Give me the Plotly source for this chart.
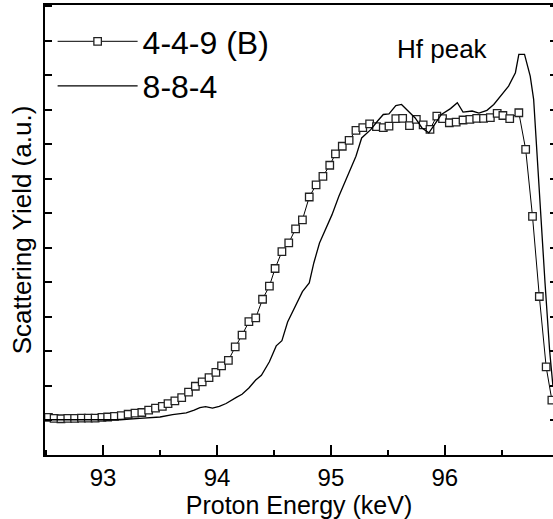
import plotly.graph_objects as go

# Series "4-4-9 (B)" (squares)
energy_b = [92.52, 92.57, 92.63, 92.69, 92.75, 92.81, 92.87, 92.93, 92.99, 93.04,
            93.10, 93.16, 93.22, 93.28, 93.34, 93.40, 93.46, 93.52, 93.57, 93.63,
            93.69, 93.75, 93.81, 93.87, 93.93, 93.99, 94.04, 94.10, 94.16, 94.22,
            94.28, 94.34, 94.40, 94.46, 94.51, 94.57, 94.63, 94.69, 94.75, 94.81,
            94.87, 94.93, 94.99, 95.04, 95.10, 95.16, 95.22, 95.28, 95.34, 95.40,
            95.46, 95.51, 95.57, 95.63, 95.69, 95.75, 95.81, 95.87, 95.93, 95.98,
            96.04, 96.10, 96.16, 96.22, 96.28, 96.34, 96.40, 96.46, 96.51, 96.57,
            96.65, 96.71, 96.77, 96.83, 96.89, 96.94]
yield_b = [1.09, 1.06, 1.05, 1.06, 1.06, 1.07, 1.07, 1.07, 1.09, 1.10,
           1.12, 1.14, 1.18, 1.21, 1.23, 1.30, 1.36, 1.41, 1.49, 1.57,
           1.66, 1.82, 1.99, 2.12, 2.24, 2.39, 2.58, 2.74, 3.13, 3.47,
           3.86, 3.97, 4.51, 4.89, 5.40, 5.89, 6.14, 6.55, 6.81, 7.47,
           7.82, 8.07, 8.39, 8.72, 8.94, 9.11, 9.40, 9.48, 9.59, 9.51,
           9.48, 9.52, 9.74, 9.75, 9.54, 9.72, 9.56, 9.43, 9.81, 9.74,
           9.62, 9.64, 9.70, 9.72, 9.75, 9.75, 9.77, 9.89, 9.83, 9.74,
           9.91, 8.85, 6.91, 4.59, 2.55, 1.59]

# Series "8-8-4" (solid line)
energy_a = [92.49, 92.62, 92.80, 92.97, 93.15, 93.32, 93.50, 93.61, 93.73, 93.80,
            93.85, 93.90, 93.96, 94.02, 94.08, 94.17, 94.22, 94.28, 94.34, 94.39,
            94.43, 94.46, 94.52, 94.57, 94.62, 94.69, 94.75, 94.81, 94.85, 94.90,
            94.95, 95.01, 95.07, 95.16, 95.22, 95.27, 95.35, 95.41, 95.46, 95.51,
            95.57, 95.62, 95.68, 95.74, 95.80, 95.86, 95.92, 95.97, 96.05, 96.11,
            96.16, 96.24, 96.30, 96.37, 96.43, 96.49, 96.56, 96.62, 96.65, 96.70,
            96.75, 96.78, 96.81, 96.84, 96.88, 96.92, 96.95]
yield_a = [1.02, 1.02, 1.01, 1.01, 1.02, 1.06, 1.10, 1.17, 1.22, 1.30,
           1.37, 1.40, 1.36, 1.41, 1.49, 1.67, 1.76, 1.94, 2.17, 2.31,
           2.55, 2.70, 3.16, 3.31, 3.85, 4.30, 4.73, 4.98, 5.56, 6.14,
           6.52, 6.96, 7.49, 8.17, 8.65, 9.18, 9.42, 9.67, 9.86, 9.88,
           10.12, 10.15, 9.96, 9.76, 9.47, 9.33, 9.62, 9.86, 10.03, 10.20,
           9.93, 9.96, 9.90, 9.98, 10.15, 10.38, 10.68, 11.07, 11.60, 11.60,
           10.97, 10.30, 8.65, 7.01, 4.98, 3.04, 1.97]

x_tickvals = [93, 94, 95, 96]
x_ticktext = ["93", "94", "95", "96"]
names = ["4-4-9 (B)", "8-8-4"]
note_text = "Hf peak"
note_pos = (95.98, 11.75)

FONT = "Arial, Liberation Sans, sans-serif"

fig = go.Figure()
fig.add_trace(go.Scatter(
    x=energy_b, y=yield_b, name=names[0], mode="lines+markers",
    line=dict(color="black", width=1),
    marker=dict(symbol="square", size=7.5, color="white",
                line=dict(color="#222222", width=1.3)),
))
fig.add_trace(go.Scatter(
    x=energy_a, y=yield_a, name=names[1], mode="lines",
    line=dict(color="black", width=1.3),
))
# helper trace to host the right-hand tick axis
fig.add_trace(go.Scatter(x=[], y=[], yaxis="y2", showlegend=False, hoverinfo="skip"))

fig.add_annotation(x=note_pos[0], y=note_pos[1], text=note_text, showarrow=False,
                   font=dict(family=FONT, size=26, color="black"))

fig.update_layout(
    width=553, height=519,
    margin=dict(l=45, r=0, t=5, b=64),
    paper_bgcolor="white", plot_bgcolor="white",
    font=dict(family=FONT, color="black"),
    showlegend=True,
    legend=dict(x=0.015, y=0.98, xanchor="left", yanchor="top",
                bgcolor="rgba(0,0,0,0)", font=dict(size=32, family=FONT),
                itemwidth=80, tracegroupgap=0),
    xaxis=dict(
        range=[92.49, 96.95], showgrid=False, zeroline=False,
        showline=True, linecolor="black", linewidth=2, mirror=True,
        tickmode="array", tickvals=x_tickvals, ticktext=x_ticktext,
        ticks="inside", ticklen=10, tickwidth=1.5, tickcolor="black",
        ticklabelstandoff=0,
        tickfont=dict(size=24, family=FONT),
        minor=dict(dtick=0.5, tick0=92.5, ticks="inside", ticklen=5,
                   tickwidth=1.5, tickcolor="black", showgrid=False),
        title=dict(text="Proton Energy (keV)", font=dict(size=25, family=FONT),
                   standoff=7),
    ),
    yaxis=dict(
        range=[0, 13.03], showgrid=False, zeroline=False,
        showline=True, linecolor="black", linewidth=2, mirror=False,
        tick0=0, dtick=1, ticks="inside", ticklen=7, tickwidth=1.5,
        tickcolor="black", showticklabels=False,
        title=dict(text="Scattering Yield (a.u.)", font=dict(size=26, family=FONT),
                   standoff=4),
    ),
    yaxis2=dict(
        range=[0, 13.03], overlaying="y", side="right", anchor="x",
        showgrid=False, zeroline=False, showline=False,
        tick0=0, dtick=1, ticks="inside", ticklen=3, tickwidth=1.5,
        tickcolor="black", showticklabels=False,
    ),
)

fig.write_html("out.html")
